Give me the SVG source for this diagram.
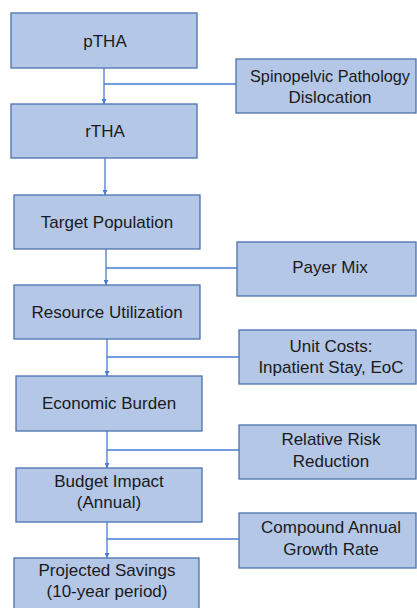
<svg xmlns="http://www.w3.org/2000/svg" width="417" height="608" viewBox="0 0 417 608">
<style>
.box{fill:#b4c7e7;stroke:#4a72b0;stroke-width:1.3}
.t{font-family:"Liberation Sans",Arial,sans-serif;font-size:17px;fill:#1a1a1a;text-anchor:middle}
.c{stroke:#4a7bd0;stroke-width:1.3;fill:none}
</style>
<defs>
<marker id="ah" viewBox="0 0 10 10" refX="10" refY="5" markerWidth="5" markerHeight="5" orient="auto" markerUnits="userSpaceOnUse">
<path d="M0,0 L10,5 L0,10 z" fill="#4a7bd0"/>
</marker>
</defs>
<rect width="417" height="608" fill="#ffffff"/>
<g id="connectors">
<line class="c" x1="104" y1="68" x2="104" y2="104" marker-end="url(#ah)"/>
<line class="c" x1="104" y1="84" x2="236" y2="84"/>
<line class="c" x1="105" y1="158" x2="105" y2="195" marker-end="url(#ah)"/>
<line class="c" x1="106" y1="249" x2="106" y2="285" marker-end="url(#ah)"/>
<line class="c" x1="106" y1="268" x2="237" y2="268"/>
<line class="c" x1="107" y1="339" x2="107" y2="376" marker-end="url(#ah)"/>
<line class="c" x1="107" y1="357" x2="239" y2="357"/>
<line class="c" x1="107" y1="431" x2="107" y2="468" marker-end="url(#ah)"/>
<line class="c" x1="107" y1="450" x2="239" y2="450"/>
<line class="c" x1="107" y1="522" x2="107" y2="558" marker-end="url(#ah)"/>
<line class="c" x1="107" y1="539" x2="239" y2="539"/>
</g>
<g id="pTHA"><rect class="box" x="11" y="13" width="186" height="55"/><text class="t" x="105" y="47">pTHA</text></g>
<g id="rTHA"><rect class="box" x="11" y="104" width="186" height="54"/><text class="t" x="105" y="137">rTHA</text></g>
<g id="target"><rect class="box" x="14" y="195" width="186" height="54"/><text class="t" x="107" y="228">Target Population</text></g>
<g id="resource"><rect class="box" x="14" y="285" width="186" height="54"/><text class="t" x="107" y="318">Resource Utilization</text></g>
<g id="economic"><rect class="box" x="16" y="376" width="186" height="55"/><text class="t" x="109" y="409">Economic Burden</text></g>
<g id="budget"><rect class="box" x="16" y="468" width="186" height="54"/><text class="t" x="109" y="487">Budget Impact</text><text class="t" x="109" y="508">(Annual)</text></g>
<g id="projected"><rect class="box" x="14" y="558" width="185" height="60"/><text class="t" x="107" y="576">Projected Savings</text><text class="t" x="107" y="597">(10-year period)</text></g>
<g id="spinopelvic"><rect class="box" x="236" y="59" width="180" height="54"/><text class="t" x="330" y="82" textLength="160" lengthAdjust="spacingAndGlyphs">Spinopelvic Pathology</text><text class="t" x="330" y="103">Dislocation</text></g>
<g id="payer"><rect class="box" x="237" y="242" width="179" height="54"/><text class="t" x="330" y="273">Payer Mix</text></g>
<g id="unitcosts"><rect class="box" x="239" y="330" width="177" height="54"/><text class="t" x="331" y="352">Unit Costs:</text><text class="t" x="331" y="373">Inpatient Stay, EoC</text></g>
<g id="rrr"><rect class="box" x="239" y="425" width="177" height="54"/><text class="t" x="331" y="445">Relative Risk</text><text class="t" x="331" y="467">Reduction</text></g>
<g id="cagr"><rect class="box" x="239" y="513" width="177" height="55"/><text class="t" x="331" y="533">Compound Annual</text><text class="t" x="331" y="555">Growth Rate</text></g>
</svg>
